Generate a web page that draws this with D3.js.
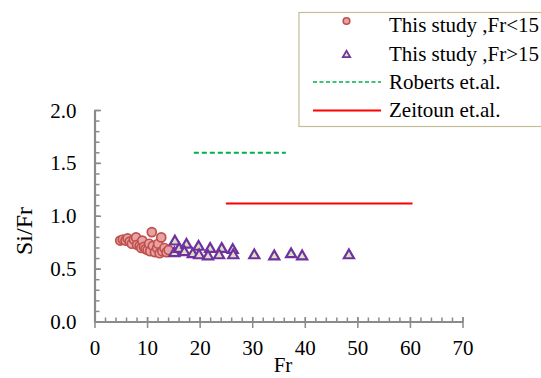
<!DOCTYPE html>
<html>
<head>
<meta charset="utf-8">
<script src="https://cdn.jsdelivr.net/npm/d3@7"></script>
<style>
  body { margin: 0; background: #fff; }
  svg text { font-family: "Liberation Serif", "Times New Roman", serif; font-size: 21px; fill: #000; }
</style>
</head>
<body>
<svg id="chart" width="541" height="378"></svg>
<script>
// data
const lowFr = [
  [4.8, 0.77], [5.3, 0.78], [5.8, 0.77], [6.2, 0.79], [6.6, 0.76], [7.0, 0.74],
  [7.4, 0.78], [7.8, 0.80], [8.0, 0.73], [8.5, 0.72], [8.8, 0.70], [9.0, 0.77],
  [9.3, 0.71], [9.6, 0.69], [10.0, 0.68], [10.3, 0.74], [10.5, 0.67], [10.8, 0.85],
  [11.0, 0.72], [11.4, 0.66], [11.8, 0.70], [12.0, 0.74], [12.3, 0.65], [12.6, 0.80],
  [12.8, 0.67], [13.2, 0.70], [13.6, 0.66], [14.0, 0.68]
];
const highFr = [
  [15.2, 0.77], [15.1, 0.66], [16.0, 0.70], [17.4, 0.74], [17.0, 0.67], [18.6, 0.65],
  [19.7, 0.72], [19.8, 0.64], [21.9, 0.70], [21.5, 0.63], [24.1, 0.70], [23.6, 0.64],
  [26.2, 0.69], [26.3, 0.64], [30.3, 0.64], [34.1, 0.63], [37.3, 0.65], [39.4, 0.63],
  [48.3, 0.64]
];
const roberts = [[18.8, 1.6], [36.3, 1.6]];
const zeitoun = [[24.9, 1.12], [60.4, 1.12]];
const xTicks = [0, 10, 20, 30, 40, 50, 60, 70];
const yTicks = [0, 0.5, 1.0, 1.5, 2.0];
const legendLabels = ["This study ,Fr<15", "This study ,Fr>15", "Roberts et.al.", "Zeitoun et.al."];

const svg = d3.select('#chart');
const x = d3.scaleLinear().domain([0, 70]).range([95, 463]);
const y = d3.scaleLinear().domain([0, 2]).range([322, 110.5]);
const axisCol = "#8a8a8a";

// minor ticks
const gAx = svg.append('g');
gAx.selectAll('.mx').data(d3.range(0, 70.1, 2))
  .join('line')
  .attr('x1', d => x(d)).attr('x2', d => x(d))
  .attr('y1', y(0)).attr('y2', y(0) - 4.5)
  .attr('stroke', axisCol).attr('stroke-width', 1.5);
gAx.selectAll('.mxM').data(xTicks)
  .join('line')
  .attr('x1', d => x(d)).attr('x2', d => x(d))
  .attr('y1', y(0) - 5).attr('y2', y(0) + 6)
  .attr('stroke', axisCol).attr('stroke-width', 1.5);
gAx.selectAll('.my').data(d3.range(0, 20.1, 1).map(d => d / 10))
  .join('line')
  .attr('x1', x(0)).attr('x2', x(0) + 4.5)
  .attr('y1', d => y(d)).attr('y2', d => y(d))
  .attr('stroke', axisCol).attr('stroke-width', 1.5);
gAx.selectAll('.myM').data(yTicks)
  .join('line')
  .attr('x1', x(0) - 1).attr('x2', x(0) + 6)
  .attr('y1', d => y(d)).attr('y2', d => y(d))
  .attr('stroke', axisCol).attr('stroke-width', 1.5);

gAx.append('line').attr('x1', x(0)).attr('x2', x(70)).attr('y1', y(0)).attr('y2', y(0))
  .attr('stroke', axisCol).attr('stroke-width', 2.2);
gAx.append('line').attr('x1', x(0)).attr('x2', x(0)).attr('y1', y(0)).attr('y2', y(2))
  .attr('stroke', axisCol).attr('stroke-width', 2.2);

// tick labels
svg.append('g').selectAll('text').data(xTicks).join('text')
  .attr('x', d => x(d)).attr('y', 355)
  .attr('text-anchor', 'middle')
  .text(d => d);
svg.append('g').selectAll('text').data(yTicks).join('text')
  .attr('x', 76.5).attr('y', d => y(d) + 7)
  .attr('text-anchor', 'end')
  .text(d => d.toFixed(1));

svg.append('text').attr('x', 283).attr('y', 372)
  .attr('text-anchor', 'middle').text('Fr');
svg.append('text').attr('transform', 'translate(32,231) rotate(-90)')
  .attr('text-anchor', 'middle').style('font-size', '24px').text('Si/Fr');

// reference lines
const line = d3.line().x(d => x(d[0])).y(d => y(d[1]));
svg.append('path').datum(roberts).attr('d', line)
  .attr('stroke', '#00b050').attr('stroke-width', 2).attr('stroke-dasharray', '5,3').attr('fill', 'none');
svg.append('path').datum(zeitoun).attr('d', line)
  .attr('stroke', '#ff0000').attr('stroke-width', 2).attr('fill', 'none');

// points
const tri = d3.symbol().type(d3.symbolTriangle).size(44);
svg.append('g').selectAll('circle').data(lowFr).join('circle')
  .attr('cx', d => x(d[0])).attr('cy', d => y(d[1])).attr('r', 4.5)
  .attr('fill', '#e6a3a2').attr('stroke', '#c0504d').attr('stroke-width', 1.7);
svg.append('g').selectAll('path').data(highFr).join('path')
  .attr('d', tri)
  .attr('transform', d => `translate(${x(d[0])},${y(d[1]) + 1})`)
  .attr('fill', '#d7e4bd').attr('stroke', '#7030a0').attr('stroke-width', 2.2);

// legend
const lg = svg.append('g');
lg.append('rect').attr('x', 299).attr('y', 12.5).attr('width', 260).attr('height', 114)
  .attr('fill', '#fff').attr('stroke', '#c4bd97').attr('stroke-width', 1.2);
const rowBase = [32, 61, 89, 117];
lg.append('circle').attr('cx', 346.5).attr('cy', 21).attr('r', 3.3)
  .attr('fill', '#e6a3a2').attr('stroke', '#c0504d').attr('stroke-width', 1.6);
lg.append('path').attr('d', d3.symbol().type(d3.symbolTriangle).size(24))
  .attr('transform', 'translate(346.5,55)')
  .attr('fill', '#d7e4bd').attr('stroke', '#7030a0').attr('stroke-width', 1.7);
lg.append('line').attr('x1', 313).attr('x2', 381).attr('y1', 82).attr('y2', 82)
  .attr('stroke', '#00b050').attr('stroke-width', 1.6).attr('stroke-dasharray', '4,2.5');
lg.append('line').attr('x1', 313).attr('x2', 381).attr('y1', 110.5).attr('y2', 110.5)
  .attr('stroke', '#ff0000').attr('stroke-width', 2);
lg.selectAll('.lt').data(legendLabels).join('text')
  .attr('x', 389).attr('y', (d, i) => rowBase[i])
  .text(d => d);
</script>
</body>
</html>
